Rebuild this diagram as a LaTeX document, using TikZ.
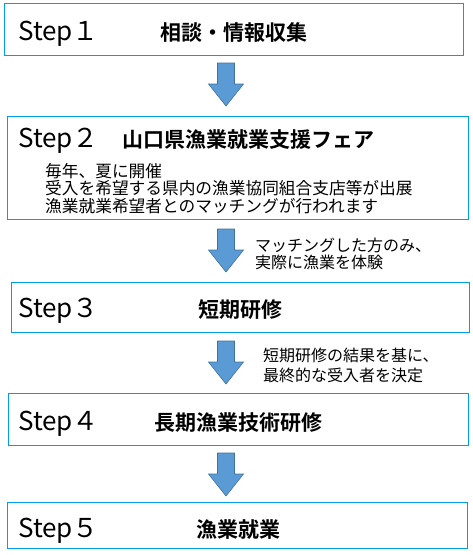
\documentclass[tikz,border=0pt]{standalone}
\usepackage{fontspec}
\setmainfont{Noto Sans CJK JP}[BoldFont={Noto Sans CJK JP Bold}]
\usetikzlibrary{calc}
\usetikzlibrary{positioning}
\definecolor{boxline}{HTML}{00A0E9}
\definecolor{arrowfill}{HTML}{5B9BD5}
\definecolor{arrowline}{HTML}{41719C}
\tikzstyle{stepbox} = [rectangle, draw=boxline, line width=1pt, inner sep=0, anchor=north west]
\tikzstyle{steplabel} = [inner sep=0, anchor=base west, font=\fontsize{26}{26}\selectfont]
\tikzstyle{title} = [inner sep=0, anchor=base, font=\fontsize{21}{21}\selectfont\bfseries]
\tikzstyle{note} = [inner sep=0, anchor=base west, align=left]
\tikzstyle{blockarrow} = [fill=arrowfill, draw=arrowline, line width=0.6pt, line join=miter]

\begin{document}
\begin{tikzpicture}[x=1pt, y=-1pt]
\useasboundingbox (0,0) rectangle (473,555);
\node [stepbox, minimum width=459pt, minimum height=52pt] (s1) at (4,3) {};
\node [stepbox, minimum width=461pt, minimum height=103pt] (s2) at (7,116) {};
\node [stepbox, minimum width=458pt, minimum height=50pt] (s3) at (11,282) {};
\node [stepbox, minimum width=460pt, minimum height=52pt] (s4) at (8,393) {};
\node [stepbox, minimum width=460pt, minimum height=46pt] (s5) at (7,502) {};
\node [steplabel] (l1) at (18,40) {Step１};
\node [steplabel] (l2) at (18,147) {Step２};
\node [steplabel] (l3) at (18,317) {Step３};
\node [steplabel] (l4) at (18,430) {Step４};
\node [steplabel] (l5) at (18,537) {Step５};
\node [title] (t1) at (234,40) {相談・情報収集};
\node [title, anchor=base west] (t2) at (122,147) {山口県漁業就業支援フェア};
\node [title] (t3) at (240,317) {短期研修};
\node [title] (t4) at (238,430) {長期漁業技術研修};
\node [title] (t5) at (238,537) {漁業就業};
\node [note, font=\fontsize{16.7}{17.5}\selectfont] (d2) at (45,212) {毎年、夏に開催\\受入を希望する県内の漁業協同組合支店等が出展\\漁業就業希望者とのマッチングが行われます};
\coordinate (a1) at (226,63);
\coordinate (a2) at (226,229);
\coordinate (a3) at (226,341);
\coordinate (a4) at (226,453);
\foreach \n in {1,...,4}
  \draw [blockarrow] ($(a\n)+(-8.5,0)$) -- ++(17,0) -- ++(0,21) -- ++(9,0) -- ($(a\n)+(0,43)$) -- ++(-17.5,-22) -- ++(9,0) -- cycle;
\node [note, font=\fontsize{16}{17}\selectfont] (n2) at (255,268) {マッチングした方のみ、\\実際に漁業を体験};
\node [note, font=\fontsize{16}{19.5}\selectfont] (n3) at (263,381) {短期研修の結果を基に、\\最終的な受入者を決定};
\end{tikzpicture}
\end{document}
